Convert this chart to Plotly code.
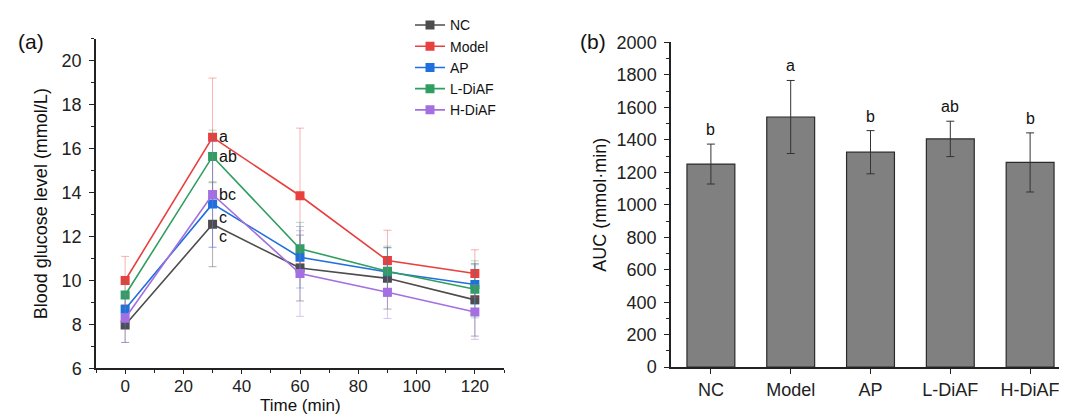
import plotly.graph_objects as go

# ---------------- data ----------------
time_min = [0, 30, 60, 90, 120]
groups = ["NC", "Model", "AP", "L-DiAF", "H-DiAF"]
colors = ["#4d4d4d", "#e8403f", "#1f6fde", "#2f9e60", "#a46fe0"]
err_colors = ["rgba(77,77,77,0.45)", "rgba(232,64,63,0.4)", "rgba(31,111,222,0.35)",
              "rgba(47,158,96,0.35)", "rgba(164,111,224,0.4)"]

nc_glucose = [7.98, 12.56, 10.57, 10.10, 9.12]
model_glucose = [10.00, 16.52, 13.86, 10.91, 10.32]
ap_glucose = [8.69, 13.49, 11.06, 10.39, 9.82]
ldiaf_glucose = [9.34, 15.65, 11.45, 10.42, 9.60]
hdiaf_glucose = [8.28, 13.92, 10.32, 9.47, 8.57]

nc_err = [0.80, 1.93, 1.50, 1.40, 1.65]
model_err = [1.10, 2.70, 3.08, 1.38, 1.08]
ap_err = [0.70, 1.98, 1.40, 1.10, 0.90]
ldiaf_err = [0.60, 1.20, 1.20, 1.15, 1.30]
hdiaf_err = [1.10, 2.40, 1.95, 1.20, 1.25]

glucose = [nc_glucose, model_glucose, ap_glucose, ldiaf_glucose, hdiaf_glucose]
glucose_err = [nc_err, model_err, ap_err, ldiaf_err, hdiaf_err]

# letters at 30 min: (text, y-level)
peak_letters = ["a", "ab", "bc", "c", "c"]
peak_letter_y = [16.55, 15.65, 13.92, 12.88, 12.00]

auc_values = [1251, 1541, 1324, 1406, 1261]
auc_err = [123, 225, 133, 109, 182]
auc_letters = ["b", "a", "b", "ab", "b"]

FONT = "Liberation Sans, Arial, sans-serif"
W, H = 1067, 418
X1_DOM = [88 / W, 496 / W]

fig = go.Figure()

for g, c, ec, ys, es in zip(groups, colors, err_colors, glucose, glucose_err):
    fig.add_trace(go.Scatter(
        x=time_min, y=ys, name=g, mode="lines+markers",
        line=dict(color=c, width=1.6),
        marker=dict(symbol="square", size=9, color=c),
        error_y=dict(type="data", array=es, visible=True, color=ec, thickness=1, width=4),
        xaxis="x", yaxis="y",
    ))

for t, yv in zip(peak_letters, peak_letter_y):
    fig.add_annotation(x=30, y=yv, text=t, xref="x", yref="y", showarrow=False,
                       xanchor="left", yanchor="middle", xshift=4,
                       font=dict(family=FONT, size=16, color="#111"))

fig.add_trace(go.Bar(
    x=groups, y=auc_values, width=0.6, showlegend=False,
    marker=dict(color="#808080", line=dict(color="#2a2a2a", width=1.2)),
    error_y=dict(type="data", array=auc_err, visible=True, color="#333333", thickness=1, width=4),
    xaxis="x2", yaxis="y2",
))
for g, v, e, t in zip(groups, auc_values, auc_err, auc_letters):
    fig.add_annotation(x=g, y=v + e, text=t, xref="x2", yref="y2", showarrow=False,
                       yanchor="bottom", yshift=4,
                       font=dict(family=FONT, size=16, color="#111"))

# panel labels
fig.add_annotation(x=8 / W, y=1 - 25 / H, xref="paper", yref="paper", text="(a)",
                   xanchor="left", yanchor="middle",
                   showarrow=False, font=dict(family=FONT, size=21, color="#111"))
fig.add_annotation(x=570 / W, y=1 - 25 / H, xref="paper", yref="paper", text="(b)",
                   xanchor="left", yanchor="middle",
                   showarrow=False, font=dict(family=FONT, size=21, color="#111"))

tickfont = dict(family=FONT, size=18, color="#222")
titlefont = dict(family=FONT, size=18, color="#111")

# x-axis title of panel (a), kept inside the page
fig.add_annotation(x=(X1_DOM[0] + X1_DOM[1]) / 2, y=0, xref="paper", yref="paper",
                   text="Time (min)", xanchor="center", yanchor="bottom", yshift=-1,
                   showarrow=False, font=dict(family=FONT, size=17, color="#111"))

axis_common = dict(showline=True, linecolor="#222", linewidth=1.5, ticks="outside",
                   tickcolor="#222", tickwidth=1.3, showgrid=False,
                   zeroline=False, mirror=False)

fig.update_layout(
    width=W, height=H,
    margin=dict(l=0, r=0, t=0, b=0),
    plot_bgcolor="white", paper_bgcolor="white",
    font=dict(family=FONT, color="#111"),
    xaxis=dict(domain=X1_DOM, range=[-10, 130], tickvals=[0, 20, 40, 60, 80, 100, 120],
               minor=dict(dtick=10, tick0=0, ticks="outside", ticklen=3, tickcolor="#222"),
               ticklen=4, ticklabelstandoff=-3, tickfont=dict(family=FONT, size=17, color="#222"),
               title=None, anchor="y", **axis_common),
    yaxis=dict(domain=[1 - 368 / H, 1 - 22 / H], range=[6, 21], tickvals=[6, 8, 10, 12, 14, 16, 18, 20],
               minor=dict(dtick=1, tick0=0, ticks="outside", ticklen=3, tickcolor="#222"),
               ticklen=5, tickfont=tickfont,
               title=dict(text="Blood glucose level (mmol/L)", font=titlefont, standoff=9),
               ticklabelstandoff=4, anchor="x", **axis_common),
    xaxis2=dict(domain=[663 / W, 1066 / W], range=[-0.5, 4.55], anchor="y2",
                ticklen=5, tickfont=tickfont, title=None, **axis_common),
    yaxis2=dict(domain=[1 - 366.7 / H, 1 - 25.7 / H], range=[0, 2000], dtick=200,
                minor=dict(dtick=100, ticks="outside", ticklen=3, tickcolor="#222"),
                ticklen=5, tickfont=tickfont,
                title=dict(text="AUC (mmol·min)", font=titlefont, standoff=5),
                ticklabelstandoff=4, anchor="x2", **axis_common),
    legend=dict(x=402 / W, y=1 + 9 / H, xanchor="left", yanchor="top",
                bgcolor="rgba(0,0,0,0)", font=dict(family=FONT, size=14, color="#111"),
                itemwidth=30, tracegroupgap=0),
    bargap=0.4,
)

fig.write_html("out.html")
